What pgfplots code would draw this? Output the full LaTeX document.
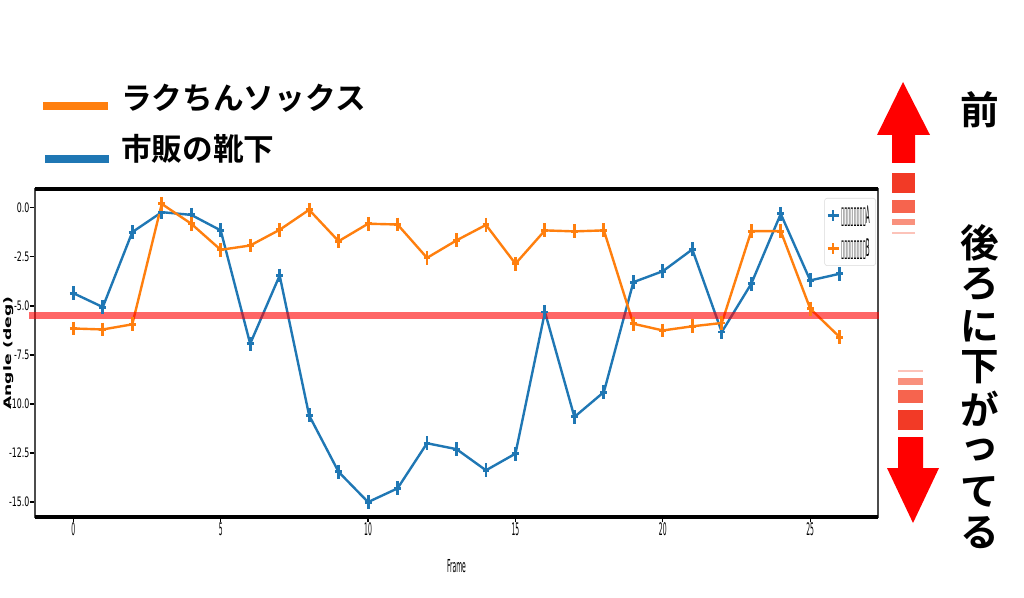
\documentclass[border=0pt]{standalone}
\usepackage{fontspec}
\setmainfont{DejaVu Sans}
\newfontfamily\cjk{Noto Sans CJK JP}[BoldFont={Noto Sans CJK JP Bold}]
\usepackage{pgfplots}
\pgfplotsset{compat=1.18}
\definecolor{mplblue}{HTML}{1F77B4}
\definecolor{mplorange}{HTML}{FF7F0E}
\definecolor{dashA}{RGB}{242,58,38}
\definecolor{dashB}{RGB}{246,100,78}
\definecolor{dashC}{RGB}{249,145,125}
\definecolor{dashD}{RGB}{252,195,185}
\newcommand{\tofu}[1]{\scalebox{0.3}[1.3]{\fontsize{14}{14}\selectfont ▯▯▯▯▯▯▯▯#1}}
\pgfplotstableread{
x y
0 -4.35
1 -5.06
2 -1.24
3 -0.22
4 -0.36
5 -1.15
6 -6.93
7 -3.45
8 -10.58
9 -13.46
10 -15.0
11 -14.3
12 -12.0
13 -12.3
14 -13.38
15 -12.53
16 -5.31
17 -10.66
18 -9.39
19 -3.79
20 -3.23
21 -2.12
22 -6.33
23 -3.87
24 -0.31
25 -3.70
26 -3.36
}\seriesA
\pgfplotstableread{
x y
0 -6.15
1 -6.2
2 -5.94
3 0.2
4 -0.81
5 -2.14
6 -1.92
7 -1.12
8 -0.10
9 -1.70
10 -0.81
11 -0.85
12 -2.55
13 -1.66
14 -0.87
15 -2.85
16 -1.15
17 -1.2
18 -1.15
19 -5.91
20 -6.25
21 -6.04
22 -5.87
23 -1.19
24 -1.19
25 -5.14
26 -6.59
}\seriesB
\begin{document}
\begin{tikzpicture}
\path[use as bounding box] (0,0) rectangle (768pt,-448.5pt);
\begin{axis}[
  at={(26.25pt,-387.75pt)}, anchor=south west,
  scale only axis, width=632.25pt, height=246pt,
  xmin=-1.3, xmax=27.3, ymin=-15.76, ymax=0.96,
  xtick={0,5,...,25}, ytick={-15,-12.5,...,0},
  xtick pos=bottom, ytick pos=left,
  tick align=outside, major tick length=4pt,
  tick style={black, line width=0.9pt},
  axis line style={black!70, line width=1.8pt},
  clip=false,
  /pgf/number format/assume math mode=true,
  xticklabel={\scalebox{0.35}[1]{\fontsize{13}{13}\selectfont\pgfmathprintnumber{\tick}}},
  yticklabel={\scalebox{0.6}[1]{\fontsize{9.8}{9.8}\selectfont\pgfmathprintnumber[fixed,precision=1,fixed zerofill]{\tick}}},
  xticklabel style={anchor=north, inner sep=0pt},
  yticklabel style={anchor=east, inner sep=0pt},
  xlabel={\scalebox{0.34}[1]{\fontsize{13.4}{13.4}\selectfont Frame}},
  ylabel={\scalebox{1}[0.6]{\fontsize{12.9}{13}\selectfont\bfseries Angle (deg)}},
  every axis x label/.style={at={(axis description cs:0.5,-0.149)}, anchor=center},
  every axis y label/.style={at={(axis description cs:-0.031,0.5)}, anchor=center, rotate=90},
  legend style={at={(axis description cs:0.9976,0.9726)}, anchor=north east,
    draw=black!15, rounded corners=2pt, fill=white, fill opacity=0.8, text opacity=1,
    inner xsep=2.5pt, inner ysep=3.5pt, row sep=6pt},
  legend cell align=left,
  legend image code/.code={\draw[#1, only marks, mark size=4pt, mark options={line width=1.8pt}] plot coordinates {(0.15cm,0cm)};},
]
\addplot[mplblue, line width=1.8pt, line join=round, mark=+, mark size=5.2pt, mark options={xscale=0.5, line width=2.2pt}] table[x=x,y=y] {\seriesA};
\addlegendentry{\tofu{A}}
\addplot[mplorange, line width=1.8pt, line join=round, mark=+, mark size=5.2pt, mark options={xscale=0.5, line width=2.2pt}] table[x=x,y=y] {\seriesB};
\addlegendentry{\tofu{B}}
\addplot[red, opacity=0.6, line width=5pt, forget plot] coordinates {(-1.51,-5.49) (27.35,-5.49)};
\draw[black, line width=3pt] (rel axis cs:0,1) -- (rel axis cs:1,1);
\draw[black, line width=3pt] (rel axis cs:0,0) -- (rel axis cs:1,0);
\end{axis}
\begin{scope}[x=0.75pt, y=-0.75pt]
  % top-left legend
  \draw[mplorange, line width=6pt] (43,106) -- (108,106);
  \draw[mplblue, line width=6pt] (45,159) -- (109,159);
  \node[anchor=west, inner sep=0pt] at (121,98) {\cjk\bfseries\fontsize{23}{23}\selectfont ラクちんソックス};
  \node[anchor=west, inner sep=0pt] at (121,148.5) {\cjk\bfseries\fontsize{23}{23}\selectfont 市販の靴下};
  % up arrow
  \fill[red] (903,82) -- (930,135) -- (915,135) -- (915,163) -- (892,163) -- (892,135) -- (877,135) -- cycle;
  \fill[dashA] (892,173) rectangle (915,193);
  \fill[dashB] (892,200) rectangle (915,213);
  \fill[dashC] (892,219) rectangle (915,225);
  \fill[dashD] (892,232) rectangle (915,234);
  % down arrow
  \fill[dashD] (898,370) rectangle (923,372);
  \fill[dashC] (898,378) rectangle (923,385);
  \fill[dashB] (898,390) rectangle (923,403);
  \fill[dashA] (898,410) rectangle (923,430);
  \fill[red] (898,437) -- (923,437) -- (923,468) -- (939,468) -- (913,523) -- (887,468) -- (898,468) -- cycle;
  % right texts
  \node[inner sep=0pt] at (980,110) {\cjk\bfseries\fontsize{29}{29}\selectfont 前};
  \foreach \c [count=\i from 0] in {後,ろ,に,下,が,っ,て,る}
    \node[inner sep=0pt] at (980,{243+41.4*\i}) {\cjk\bfseries\fontsize{29}{29}\selectfont \c};
\end{scope}
\end{tikzpicture}
\end{document}
